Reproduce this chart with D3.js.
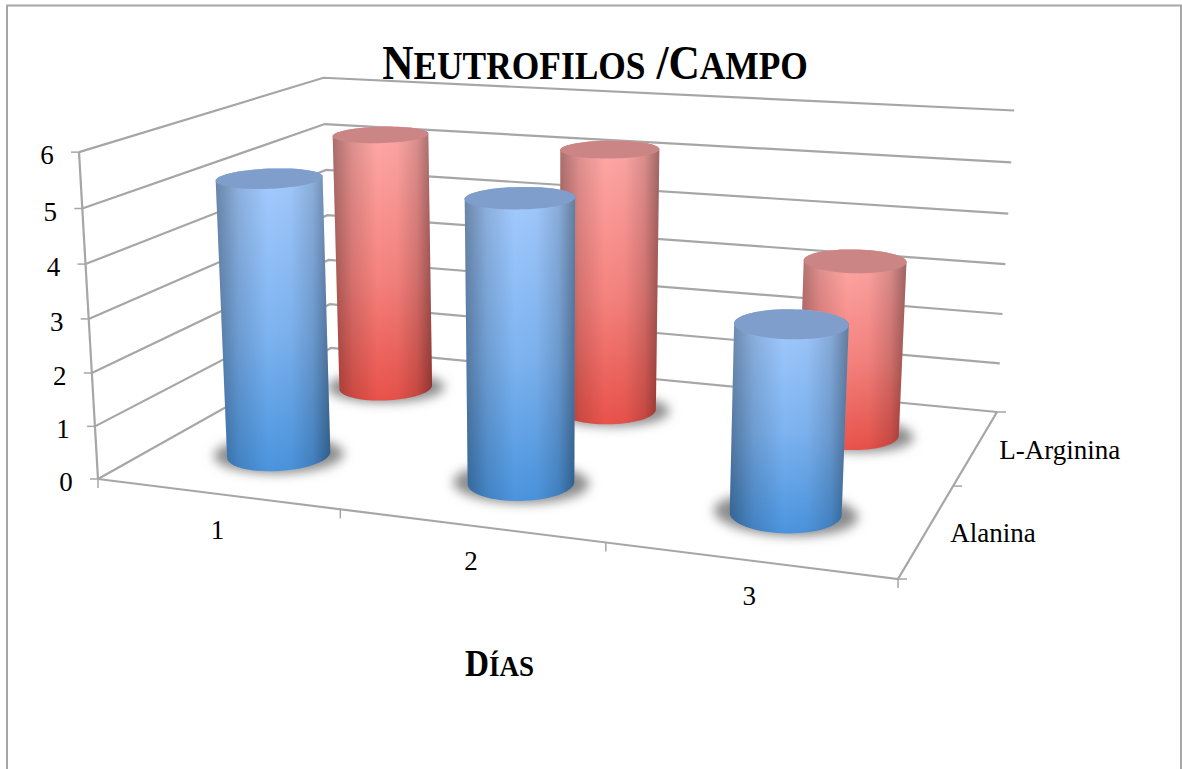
<!DOCTYPE html>
<html>
<head>
<meta charset="utf-8">
<script src="https://cdn.jsdelivr.net/npm/d3@7"></script>
<style>
  html, body { margin: 0; padding: 0; background: #fff; overflow: hidden; }
  text { font-family: "Liberation Serif", serif; fill: #000; }
  .axis { stroke: #a6a6a6; stroke-width: 2.2; fill: none; }
  .tick { stroke: #a6a6a6; stroke-width: 1.5; fill: none; }
</style>
</head>
<body>
<svg id="chart" width="1182" height="769"></svg>
<script>
const days = ['1', '2', '3'];
const seriesNames = ['Alanina', 'L-Arginina'];
const alanina = [5.25, 5.2, 3.36];
const lArginina = [5.28, 5.25, 3.4];
const valueTicks = [0, 1, 2, 3, 4, 5, 6];

const svg = d3.select('#chart');
const defs = svg.append('defs');

// floor of the 3d box on the page: front-left, front-right, back-right, back-left
const floorQuad = [[98, 479], [898, 579], [997, 412], [331, 348]];
// where the uprights of the box meet, far below the page, and how fast they shrink
const vanish = [550, 8263];
const vanishWeight = -0.0403;

// unit square to quad, the usual closed form. Returns homogeneous coordinates
function quadMap(q) {
  const [[x0, y0], [x1, y1], [x2, y2], [x3, y3]] = q;
  const dx1 = x1 - x2, dx2 = x3 - x2, sx = x0 - x1 + x2 - x3;
  const dy1 = y1 - y2, dy2 = y3 - y2, sy = y0 - y1 + y2 - y3;
  const det = dx1 * dy2 - dx2 * dy1;
  const g = (sx * dy2 - dx2 * sy) / det;
  const h = (dx1 * sy - sx * dy1) / det;
  const a = x1 - x0 + g * x1, b = x3 - x0 + h * x3;
  const d = y1 - y0 + g * y1, e = y3 - y0 + h * y3;
  return (u, v) => [a * u + b * v + x0, d * u + e * v + y0, g * u + h * v + 1];
}

const onFloor = quadMap(floorQuad);
const dayScale = d3.scaleBand().domain(days).range([0, 1]);
const seriesScale = d3.scaleBand().domain(seriesNames).range([0, 1]);
const valueScale = d3.scaleLinear().domain([0, 6]).range([0, 1]);
const project = (u, v, value) => {
  const t = valueScale(value) * vanishWeight;
  const [X, Y, W] = onFloor(u, v);
  const w = W + t;
  return [(X + t * vanish[0]) / w, (Y + t * vanish[1]) / w];
};
const line = d3.line();

// walls and floor
const frame = svg.append('g');
valueTicks.forEach((t) => {
  frame.append('path').attr('class', 'axis')
    .attr('d', line([project(0, 0, t), project(0, 1, t), project(1, 1, t)]));
  const p = project(0, 0, t);
  frame.append('path').attr('class', 'tick').attr('d', line([p, [p[0] - 8, p[1]]]));
  frame.append('text')
    .attr('x', p[0] - 32).attr('y', p[1] + 12)
    .attr('text-anchor', 'middle')
    .attr('font-size', 27)
    .text(t);
});
frame.append('path').attr('class', 'axis').attr('d', line([project(0, 0, 0), project(0, 0, 6)]));
frame.append('path').attr('class', 'axis').attr('d', line([project(0, 0, 0), project(1, 0, 0), project(1, 1, 0)]));

[0, 1, 2, 3].forEach((i) => {
  const p = project(i / 3, 0, 0);
  frame.append('path').attr('class', 'tick').attr('d', line([p, [p[0], p[1] + 9]]));
});
[0, 0.5, 1].forEach((f) => {
  const p = project(1, f, 0);
  frame.append('path').attr('class', 'tick').attr('d', line([p, [p[0] + 9, p[1]]]));
});

days.forEach((d) => {
  const p = project(dayScale(d) + dayScale.bandwidth() / 2, 0, 0);
  frame.append('text')
    .attr('x', p[0] + 1).attr('y', p[1] + 45)
    .attr('text-anchor', 'middle')
    .attr('font-size', 27)
    .text(d);
});
seriesNames.forEach((s) => {
  const p = project(1, seriesScale(s) + seriesScale.bandwidth() / 2, 0);
  frame.append('text')
    .attr('x', p[0] + 23).attr('y', p[1] + 12)
    .attr('font-size', 27)
    .text(s);
});

// shading
const blur = defs.append('filter').attr('id', 'shadowBlur')
  .attr('x', '-30%').attr('y', '-60%').attr('width', '160%').attr('height', '220%');
blur.append('feGaussianBlur').attr('stdDeviation', 5.5);

function vertical(id, top, bottom) {
  const g = defs.append('linearGradient').attr('id', id)
    .attr('x1', 0).attr('y1', 0).attr('x2', 0).attr('y2', 1);
  g.append('stop').attr('offset', 0).attr('stop-color', top);
  g.append('stop').attr('offset', 0.55).attr('stop-color', d3.interpolateRgb(top, bottom)(0.45));
  g.append('stop').attr('offset', 1).attr('stop-color', bottom);
}
vertical('blueBody', '#a6ccff', '#4a94de');
vertical('redBody', '#ffaaa8', '#e8524a');

const edge = defs.append('linearGradient').attr('id', 'edgeShade')
  .attr('x1', 0).attr('y1', 0).attr('x2', 1).attr('y2', 0);
[[0, 0.34], [0.2, 0.13], [0.45, 0], [0.65, 0.02], [0.85, 0.15], [1, 0.38]].forEach(([o, a]) => {
  edge.append('stop').attr('offset', o).attr('stop-color', '#000').attr('stop-opacity', a);
});

// world size of a cylinder, as a share of the floor width and depth
const radiusU = 0.065;
const radiusV = 0.105;
const ring = d3.range(0, 72).map((i) => (i / 72) * 2 * Math.PI);
const circleAt = (u, v, value, growU = 1, growV = 1) => ring.map((a) => project(
  u + radiusU * growU * Math.cos(a),
  v + radiusV * growV * Math.sin(a),
  value,
));

function cylinders(name, values, body, topColor) {
  const g = svg.append('g').attr('class', name);
  days.forEach((d, i) => {
    const u = dayScale(d) + dayScale.bandwidth() / 2;
    const v = seriesScale(name) + seriesScale.bandwidth() / 2;
    const bottom = circleAt(u, v, 0);
    const top = circleAt(u, v, values[i]);
    const hull = d3.polygonHull(bottom.concat(top));
    g.append('path')
      .attr('d', `${line(circleAt(u, v, 0, 1.3, 1.1))}Z`)
      .attr('fill', '#8c8c8c')
      .attr('filter', 'url(#shadowBlur)');
    g.append('path').attr('d', `${line(hull)}Z`).attr('fill', `url(#${body})`);
    g.append('path').attr('d', `${line(hull)}Z`).attr('fill', 'url(#edgeShade)');
    g.append('path').attr('d', `${line(top)}Z`).attr('fill', topColor);
  });
}
cylinders('L-Arginina', lArginina, 'redBody', '#cc8585');
cylinders('Alanina', alanina, 'blueBody', '#7f9ecb');

// titles, chart border. Liberation runs wider than the original face, so squeeze it
function smallCaps(x, y, big, small, squeeze, parts) {
  const t = svg.append('text')
    .attr('transform', `translate(${x},${y}) scale(${squeeze},1)`)
    .attr('text-anchor', 'middle')
    .attr('font-weight', 'bold');
  parts.forEach(([s, isBig]) => {
    t.append('tspan').attr('font-size', isBig ? big : small).text(s);
  });
}
smallCaps(595, 79, 49, 40, 0.885, [['N', true], ['EUTROFILOS', false], [' /C', true], ['AMPO', false]]);
smallCaps(499.5, 676, 37, 30, 0.9, [['D', true], ['ÍAS', false]]);
svg.append('path')
  .attr('d', 'M7,769V5.5H1181V769')
  .attr('fill', 'none')
  .attr('stroke', '#a6a6a6')
  .attr('stroke-width', 2);
</script>
</body>
</html>
